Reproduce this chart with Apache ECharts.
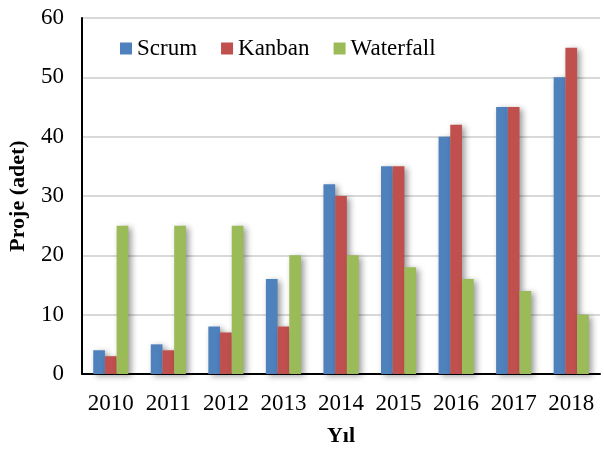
<!DOCTYPE html>
<html style="height: 100%">
<head>
    <meta charset="utf-8">
    <script src="https://cdn.jsdelivr.net/npm/echarts@6/dist/echarts.min.js"></script>
</head>
<body style="height: 100%; margin: 0; background: #fff">
    <div id="chart" style="width: 604px; height: 450px"></div>
    <script type="text/javascript">
        var years = ['2010', '2011', '2012', '2013', '2014', '2015', '2016', '2017', '2018'];
        var scrum = [4, 5, 8, 16, 32, 35, 40, 45, 50];
        var kanban = [3, 4, 7, 8, 30, 35, 42, 45, 55];
        var waterfall = [25, 25, 25, 20, 20, 18, 16, 14, 10];

        var font = '"Liberation Serif", "Times New Roman", serif';
        var shadow = {
            shadowBlur: 6,
            shadowColor: 'rgba(0,0,0,0.4)',
            shadowOffsetX: 3,
            shadowOffsetY: 2
        };

        function bar(name, data, color) {
            return {
                name: name,
                type: 'bar',
                data: data,
                barWidth: 11.7,
                barGap: '0%',
                itemStyle: Object.assign({ color: color }, shadow)
            };
        }

        var myChart = echarts.init(document.getElementById('chart'));
        myChart.setOption({
            animation: false,
            textStyle: { fontFamily: font },
            grid: { left: 82, right: 4, top: 18, bottom: 76, outerBoundsMode: 'none' },
            legend: {
                top: 37,
                left: 120,
                padding: 0,
                itemWidth: 12,
                itemHeight: 12,
                itemGap: 24,
                icon: 'rect',
                textStyle: { fontFamily: font, fontSize: 23, color: '#000' },
                data: ['Scrum', 'Kanban', 'Waterfall']
            },
            xAxis: {
                type: 'category',
                data: years,
                name: 'Yıl',
                nameLocation: 'middle',
                nameGap: 51,
                nameTextStyle: { fontFamily: font, fontSize: 22, fontWeight: 'bold', color: '#000' },
                axisLine: { lineStyle: { color: '#000', width: 2 } },
                axisTick: { show: false },
                axisLabel: { fontFamily: font, fontSize: 23, color: '#000', margin: 18, interval: 0 }
            },
            yAxis: {
                type: 'value',
                min: 0,
                max: 60,
                interval: 10,
                name: 'Proje (adet)',
                nameLocation: 'middle',
                nameGap: 53,
                nameTextStyle: { fontFamily: font, fontSize: 22, fontWeight: 'bold', color: '#000' },
                axisLine: { show: true, lineStyle: { color: '#000', width: 2 } },
                axisTick: { show: false },
                axisLabel: { fontFamily: font, fontSize: 23, color: '#000', margin: 18 },
                splitLine: { lineStyle: { color: '#d9d9d9', width: 2 } }
            },
            series: [
                bar('Scrum', scrum, '#4F81BD'),
                bar('Kanban', kanban, '#C0504D'),
                bar('Waterfall', waterfall, '#9BBB59')
            ]
        });
    </script>
</body>
</html>
